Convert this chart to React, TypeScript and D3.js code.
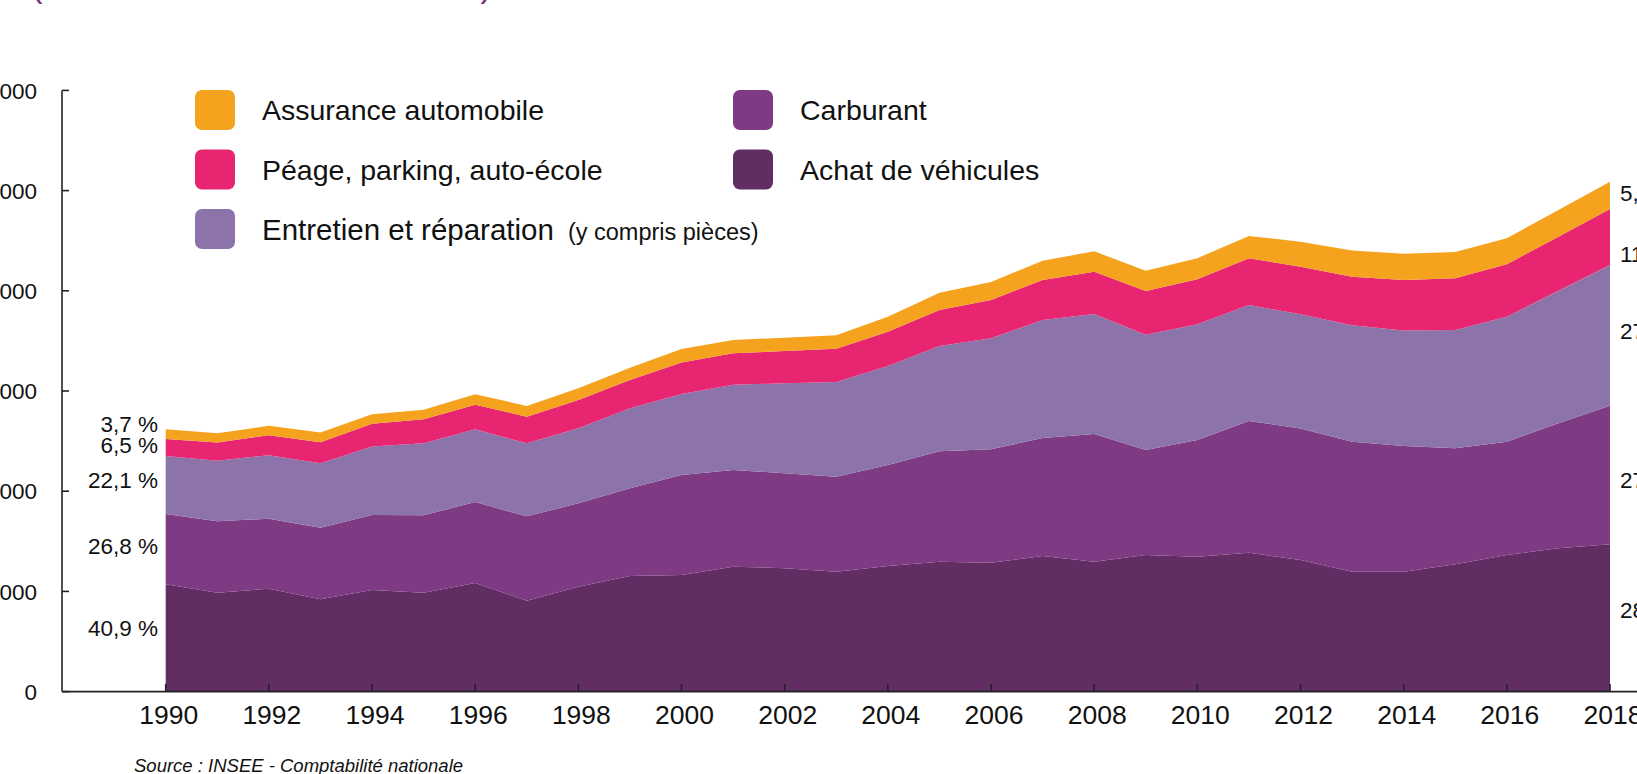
import React from "react";
import * as d3 from "d3";

const years = [1990,1991,1992,1993,1994,1995,1996,1997,1998,1999,2000,2001,2002,2003,2004,2005,2006,2007,2008,2009,2010,2011,2012,2013,2014,2015,2016,2017,2018];

const achat = [10710,9870,10270,9210,10140,9870,10840,9070,10470,11540,11640,12470,12310,11970,12540,12960,12860,13530,12960,13630,13460,13860,13130,11970,11970,12710,13630,14300,14700];
const carburant = [7020,7130,6990,7150,7490,7730,8080,8420,8320,8750,9980,9650,9480,9480,10080,11020,11320,11780,12740,10480,11650,13140,13140,12970,12550,11580,11310,12480,13830];
const entretien = [5790,6050,6330,6430,6820,7190,7260,7290,7490,7980,8080,8510,8980,9450,9880,10510,11080,11780,11980,11510,11550,11580,11380,11620,11510,11810,12480,13230,14040];
const peage = [1700,1800,2000,2100,2270,2400,2460,2660,2820,2820,3140,3130,3220,3320,3420,3590,3820,3990,4220,4360,4490,4660,4750,4850,5060,5160,5230,5390,5590];
const assurance = [970,940,930,960,970,930,1040,1070,1170,1230,1350,1330,1330,1340,1500,1730,1800,1930,2040,2030,2100,2230,2500,2600,2600,2600,2600,2670,2730];

const seriesKeys = ["achat", "carburant", "entretien", "peage", "assurance"];
const seriesColors: Record<string, string> = {
  achat: "#612d63",
  carburant: "#7e3a82",
  entretien: "#8c74aa",
  peage: "#e72570",
  assurance: "#f5a31e",
};

const yTicks = [0, 10000, 20000, 30000, 40000, 50000, 60000];
const xTicks = [1990,1992,1994,1996,1998,2000,2002,2004,2006,2008,2010,2012,2014,2016,2018];

const leftShares = [
  { key: "assurance", label: "3,7 %", dy: -10 },
  { key: "peage", label: "6,5 %", dy: -3 },
  { key: "entretien", label: "22,1 %", dy: -5.5 },
  { key: "carburant", label: "26,8 %", dy: -3.3 },
  { key: "achat", label: "40,9 %", dy: -10 },
];
const rightShares = [
  { key: "assurance", label: "5,4 %", dy: -2 },
  { key: "peage", label: "11,0 %", dy: 17 },
  { key: "entretien", label: "27,6 %", dy: -4 },
  { key: "carburant", label: "27,1 %", dy: 5 },
  { key: "achat", label: "28,9 %", dy: -8 },
];

const legendItems = [
  { key: "assurance", label: "Assurance automobile", extra: "", col: 0, row: 0 },
  { key: "peage", label: "Péage, parking, auto-école", extra: "", col: 0, row: 1 },
  { key: "entretien", label: "Entretien et réparation", extra: "(y compris pièces)", col: 0, row: 2 },
  { key: "carburant", label: "Carburant", extra: "", col: 1, row: 0 },
  { key: "achat", label: "Achat de véhicules", extra: "", col: 1, row: 1 },
];

const W = 1637;
const H = 774;
const FONT = "'Liberation Sans', Arial, Helvetica, sans-serif";

export default function App() {
  const rows = years.map((y, i) => ({
    year: y,
    achat: achat[i],
    carburant: carburant[i],
    entretien: entretien[i],
    peage: peage[i],
    assurance: assurance[i],
  }));
  const stacked = d3.stack<any>().keys(seriesKeys)(rows);

  const x = d3.scaleLinear().domain([1990, 2018]).range([165.7, 1610]);
  const y = d3.scaleLinear().domain([0, 60000]).range([691.6, 90.4]);

  const area = d3
    .area<any>()
    .x((d) => x(d.data.year))
    .y0((d) => y(d[0]))
    .y1((d) => y(d[1]));

  const first = (k: string) => stacked.find((s) => s.key === k)![0];
  const last = (k: string) => {
    const s = stacked.find((s) => s.key === k)!;
    return s[s.length - 1];
  };

  const legendX = [195, 733];
  const legendTextX = [262, 800];
  const legendY = [110, 169.5, 229];

  return (
    <div style={{ position: "absolute", left: 0, top: 0, width: W, height: H, overflow: "hidden", background: "#fff" }}>
      <svg width={W} height={H} style={{ display: "block", fontFamily: FONT }}>
        <rect x={0} y={0} width={W} height={H} fill="#ffffff" />
        {/* cut-off title fragment */}
        <text x={31} y={-3.5} fontSize={34.5} fill="#7b2f80">(en milliards d'euros courants)</text>

        {/* areas */}
        {stacked.map((s) => (
          <path key={s.key} d={area(s as any) || ""} fill={seriesColors[s.key]} />
        ))}

        {/* y axis */}
        <line x1={62} x2={62} y1={y(60000)} y2={y(0)} stroke="#222" strokeWidth={1.6} />
        {yTicks.map((t) => (
          <g key={t}>
            <line x1={62} x2={69} y1={y(t)} y2={y(t)} stroke="#222" strokeWidth={1.6} />
            <text x={37} y={y(t)} dy="0.36em" textAnchor="end" fontSize={22.5} fill="#111">
              {t === 0 ? "0" : d3.format(",")(t).replace(/,/g, "\u00a0")}
            </text>
          </g>
        ))}

        {/* x axis */}
        <line x1={62} x2={W} y1={y(0)} y2={y(0)} stroke="#222" strokeWidth={1.6} />
        {xTicks.map((t) => (
          <g key={t}>
            <line x1={x(t)} x2={x(t)} y1={y(0)} y2={y(0) - 7.5} stroke="#222" strokeWidth={1.6} />
            <text x={x(t) + 3} y={724} textAnchor="middle" fontSize={26.5} fill="#111">{t}</text>
          </g>
        ))}

        {/* left share labels */}
        {leftShares.map((l) => {
          const d = first(l.key);
          return (
            <text key={l.key} x={158} y={(y(d[0]) + y(d[1])) / 2 + l.dy} dy="0.36em" textAnchor="end" fontSize={22.5} fill="#111">
              {l.label}
            </text>
          );
        })}

        {/* right share labels */}
        {rightShares.map((l) => {
          const d = last(l.key);
          return (
            <text key={l.key} x={1620} y={(y(d[0]) + y(d[1])) / 2 + l.dy} dy="0.36em" textAnchor="start" fontSize={22.5} fill="#111">
              {l.label}
            </text>
          );
        })}

        {/* legend */}
        {legendItems.map((it) => (
          <g key={it.key}>
            <rect x={legendX[it.col]} y={legendY[it.row] - 20} width={40} height={40} rx={7} fill={seriesColors[it.key]} />
            <text x={legendTextX[it.col]} y={legendY[it.row]} dy="0.36em" fontSize={it.extra ? 29.5 : 28.5} fill="#111">
              {it.label}
              {it.extra && <tspan dx={14} fontSize={23.5}>{it.extra}</tspan>}
            </text>
          </g>
        ))}

        {/* source */}
        <text x={134} y={772} fontSize={18.5} fontStyle="italic" fill="#111">Source : INSEE - Comptabilité nationale</text>
      </svg>
    </div>
  );
}
